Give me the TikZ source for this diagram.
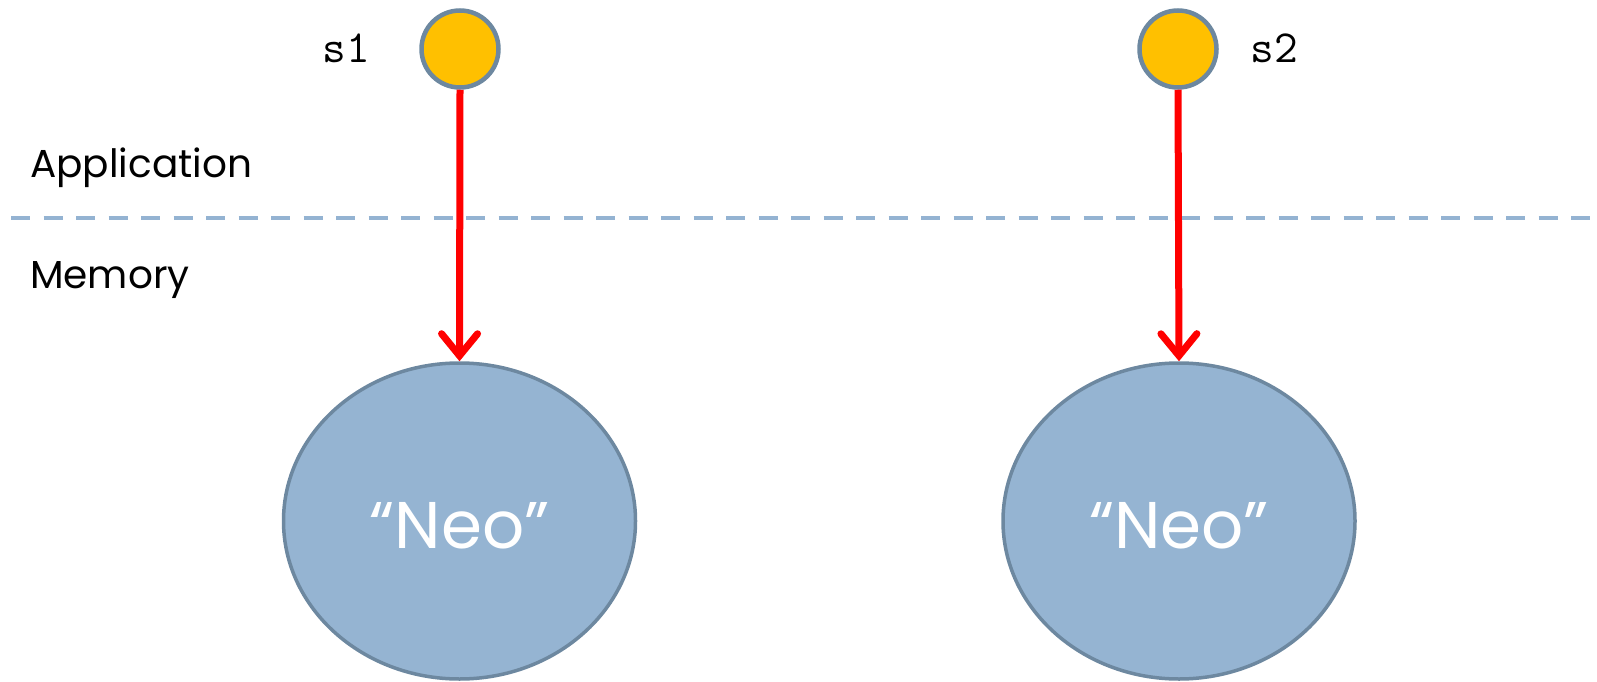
\documentclass[tikz,border=0pt]{standalone}
\usepackage{fontspec}
\setmainfont{Poppins}
\usetikzlibrary{arrows.meta,shapes.geometric}
\definecolor{gold}{HTML}{FFC000}
\definecolor{edgeblue}{HTML}{6D88A0}
\definecolor{fillblue}{HTML}{95B4D2}
\definecolor{dashblue}{HTML}{94B3D2}
\definecolor{arrred}{HTML}{FF0000}
\tikzset{
  varnode/.style={circle, fill=gold, draw=edgeblue, line width=4.5pt, minimum size=77pt, inner sep=0pt},
  objnode/.style={ellipse, fill=fillblue, draw=edgeblue, line width=3.5pt, minimum width=352pt, minimum height=316pt, inner sep=0pt},
  varlabel/.style={font=\ttfamily\fontsize{46}{52}\selectfont, anchor=base, inner sep=0pt},
  layerlabel/.style={font=\fontsize{39}{45}\selectfont, anchor=base west, inner sep=0pt},
  neolabel/.style={font=\fontsize{66}{76}\selectfont, text=white, anchor=base, inner sep=0pt},
  refarrow/.style={draw=arrred, line width=7pt, -{Straight Barb[length=22pt,width=36pt,line cap=round,line join=miter]}},
  divider/.style={draw=dashblue, line width=4.5pt, dash pattern=on 19pt off 13.5pt}
}
\begin{document}
\begin{tikzpicture}[x=1pt,y=-1pt]
\useasboundingbox (0,0) rectangle (1597,682);
% divider
\coordinate (dl) at (11,218);
\coordinate (dr) at (1597,218);
\draw[divider] (dl) -- (dr);
% layer labels
\node[layerlabel] (app) at (30,177) {Application};
\node[layerlabel] (mem) at (30,288) {Memory};
% variables
\node[varnode] (s1) at (460,49) {};
\node[varnode] (s2) at (1178,49) {};
\node[varlabel] (s1lab) at (346,63) {s1};
\node[varlabel] (s2lab) at (1274,63) {s2};
% objects
\node[objnode] (o1) at (459.5,521) {};
\node[objnode] (o2) at (1179,521) {};
\node[neolabel] (n1) at (459.5,548) {“Neo”};
\node[neolabel] (n2) at (1179,548) {“Neo”};
% references
\draw[refarrow] (s1.south) -- (o1.north);
\draw[refarrow] (s2.south) -- (o2.north);
\end{tikzpicture}
\end{document}
